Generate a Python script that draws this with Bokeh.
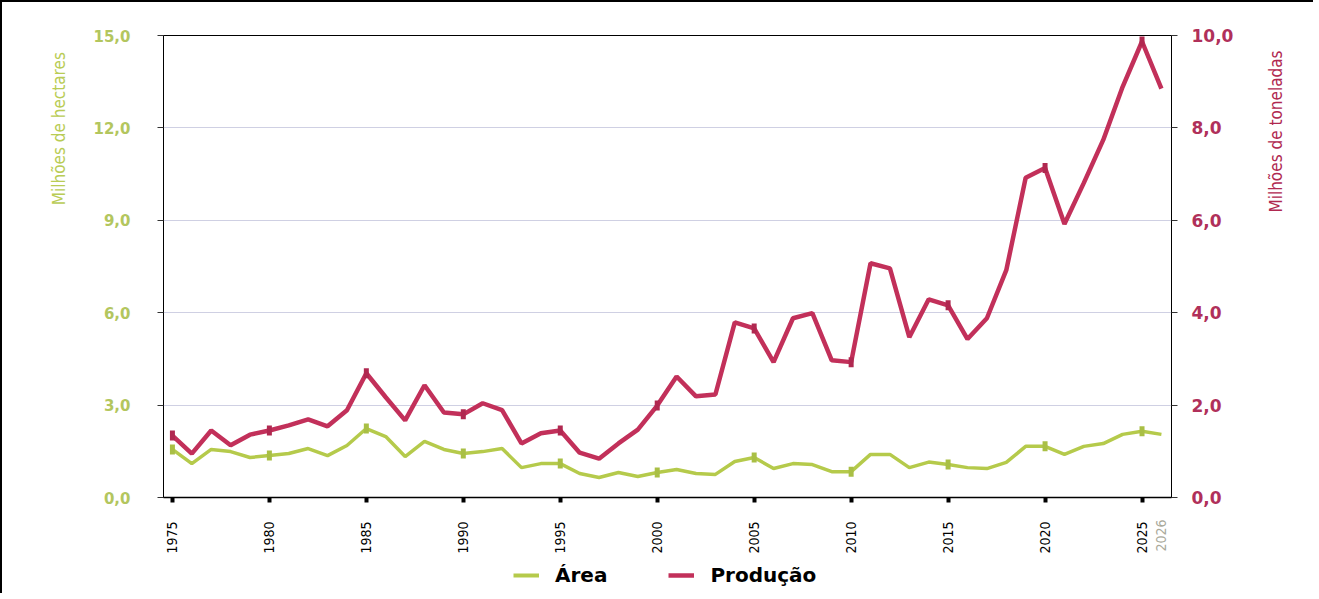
from math import pi
from bokeh.plotting import figure
from bokeh.layouts import row, column
from bokeh.models import Range1d, LinearAxis, FixedTicker, Legend, LegendItem
from bokeh.core.properties import value
from bokeh.embed import file_html
from bokeh.resources import INLINE

# ---- data ----
years = list(range(1975, 2027))
area = [1.56, 1.10, 1.56, 1.49, 1.30, 1.36, 1.43, 1.59, 1.36, 1.69,
        2.24, 1.98, 1.33, 1.82, 1.56, 1.43, 1.49, 1.59, 0.97, 1.10,
        1.10, 0.78, 0.65, 0.81, 0.68, 0.81, 0.91, 0.78, 0.75, 1.17,
        1.30, 0.94, 1.10, 1.07, 0.84, 0.84, 1.40, 1.40, 0.97, 1.15,
        1.07, 0.97, 0.94, 1.14, 1.66, 1.66, 1.40, 1.66, 1.75, 2.05,
        2.15, 2.05]
producao = [1.34, 0.95, 1.45, 1.13, 1.36, 1.45, 1.56, 1.69, 1.54, 1.89,
            2.69, 2.17, 1.67, 2.43, 1.84, 1.80, 2.04, 1.89, 1.17, 1.39,
            1.45, 0.97, 0.84, 1.17, 1.47, 1.99, 2.62, 2.19, 2.23, 3.79,
            3.66, 2.93, 3.88, 3.99, 2.97, 2.93, 5.07, 4.96, 3.47, 4.29,
            4.16, 3.43, 3.88, 4.92, 6.92, 7.13, 5.92, 6.81, 7.74, 8.89,
            9.87, 8.85]
marker_years = [1975, 1980, 1985, 1990, 1995, 2000, 2005, 2010, 2015, 2020, 2025]
x_ticks = [1975, 1980, 1985, 1990, 1995, 2000, 2005, 2010, 2015, 2020, 2025]
extra_tick = [2026]
left_ticks = [0, 3, 6, 9, 12, 15]
left_labels = ["0,0", "3,0", "6,0", "9,0", "12,0", "15,0"]
right_ticks = [0, 2, 4, 6, 8, 10]
right_labels = ["0,0", "2,0", "4,0", "6,0", "8,0", "10,0"]
series_names = ["Área", "Produção"]
left_title = "Milhões de hectares"
right_title = "Milhões de toneladas"

GREEN = "#b5ca4b"
RED = "#c2305a"
GREEN_TXT = "#b3c65e"
RED_TXT = "#b0305a"
NARROW = "DejaVu Sans Condensed, Liberation Sans Narrow, sans-serif"


def strip(w, h, **styles):
    f = figure(width=w, height=h, output_backend="svg", toolbar_location=None,
               title=None, x_range=Range1d(0, w), y_range=Range1d(0, h), min_border=0,
               x_axis_location=None, y_axis_location=None, outline_line_color=None)
    f.grid.visible = False
    f.styles = styles
    return f


# ---- main chart ----
p = figure(width=1173, height=557, output_backend="svg", toolbar_location=None,
           x_range=Range1d(1974.54, 2026.52), y_range=Range1d(0, 15),
           min_border_left=85, min_border_right=80, min_border_top=33,
           min_border_bottom=62)
p.extra_y_ranges = {"prod": Range1d(0, 10)}
p.styles = {"border-top": "2px solid black"}

p.outline_line_color = "black"
p.outline_line_width = 1
p.xgrid.visible = False
p.ygrid.grid_line_color = "#cfd0e3"
p.ygrid.grid_line_width = 1
p.ygrid.ticker = FixedTicker(ticks=left_ticks)

# x axis
xa = p.xaxis[0]
xa.ticker = FixedTicker(ticks=x_ticks)
xa.major_label_orientation = pi / 2
xa.major_label_text_font = NARROW
xa.major_label_text_font_size = "14px"
xa.major_label_text_color = "black"
xa.major_tick_line_width = 4
xa.major_tick_line_color = "black"
xa.major_tick_out = 5
xa.major_tick_in = 0
xa.minor_tick_line_color = None
xa.axis_line_color = "black"
xa.axis_line_width = 1.5
xa.major_label_standoff = 19

# second x axis carrying only the grey 2026 label, pulled up beside 2025
xa2 = LinearAxis(ticker=FixedTicker(ticks=extra_tick))
xa2.major_label_orientation = pi / 2
xa2.major_label_text_font = NARROW
xa2.major_label_text_font_size = "14px"
xa2.major_label_text_color = "#a9a99a"
xa2.major_tick_line_color = None
xa2.major_tick_out = 0
xa2.major_tick_in = 0
xa2.minor_tick_line_color = None
xa2.axis_line_color = None
xa2.major_label_standoff = -37
p.add_layout(xa2, "below")

# left axis
ya = p.yaxis[0]
ya.ticker = FixedTicker(ticks=left_ticks)
ya.major_label_overrides = {t: l for t, l in zip(left_ticks, left_labels)}
ya.major_label_text_font = "DejaVu Sans"
ya.major_label_text_font_style = "bold"
ya.major_label_text_font_size = "15px"
ya.major_label_text_color = GREEN_TXT
ya.major_tick_out = 6
ya.major_tick_in = 0
ya.major_tick_line_color = "#333333"
ya.minor_tick_line_color = None
ya.axis_line_color = "black"
ya.major_label_standoff = 27

# right axis
ra = LinearAxis(y_range_name="prod", ticker=FixedTicker(ticks=right_ticks))
ra.major_label_overrides = {t: l for t, l in zip(right_ticks, right_labels)}
ra.major_label_text_font = "DejaVu Sans"
ra.major_label_text_font_style = "bold"
ra.major_label_text_font_size = "17px"
ra.major_label_text_color = RED_TXT
ra.major_tick_out = 6
ra.major_tick_in = 0
ra.major_tick_line_color = "#333333"
ra.minor_tick_line_color = None
ra.axis_line_color = "black"
ra.major_label_standoff = 14
p.add_layout(ra, "right")

# lines
p.line(years, area, line_color=GREEN, line_width=3.5)
p.line(years, producao, line_color=RED, line_width=4.5, y_range_name="prod")

area_marks = [area[years.index(y)] for y in marker_years]
prod_marks = [producao[years.index(y)] for y in marker_years]
p.rect(marker_years, area_marks, width=5, height=10, width_units="screen",
       height_units="screen", fill_color="#a9bf45", line_color=None)
p.rect(marker_years, prod_marks, width=5, height=10, width_units="screen",
       height_units="screen", fill_color="#b02850", line_color=None, y_range_name="prod")

# ---- left strip: left axis title ----
lt = strip(78, 557, **{"border-top": "2px solid black", "border-left": "2px solid black"})
lt.text(x=[56], y=[537], text=[left_title], angle=pi / 2, text_align="right",
        text_baseline="middle", text_color="#b9cc55",
        text_font=value(NARROW), text_font_size="17px")

# ---- right strip: right axis title ----
rt = strip(62, 557, **{"border-top": "2px solid black"})
rt.text(x=[24], y=[539], text=[right_title], angle=pi / 2, text_align="right",
        text_baseline="middle", text_color="#b02850",
        text_font=value(NARROW), text_font_size="17px")

# ---- bottom strip: legend (series drawn outside its visible range, only keys show) ----
lg = strip(1313, 36, **{"border-left": "2px solid black"})
g_area = lg.line(years, area, line_color=GREEN, line_width=4)
g_prod = lg.line(years, producao, line_color=RED, line_width=4.5)
legend = Legend(items=[LegendItem(label=series_names[0], renderers=[g_area]),
                       LegendItem(label=series_names[1], renderers=[g_prod])],
                orientation="horizontal", location=(511, 6),
                glyph_width=26, glyph_height=20, label_standoff=16, spacing=61,
                padding=0, margin=0, border_line_color=None, background_fill_alpha=0,
                label_text_font="DejaVu Sans", label_text_font_style="bold",
                label_text_font_size="20px", label_text_color="black")
lg.add_layout(legend)

layout = column(row(lt, p, rt), lg)
open("out.html", "w").write(file_html(layout, INLINE))
